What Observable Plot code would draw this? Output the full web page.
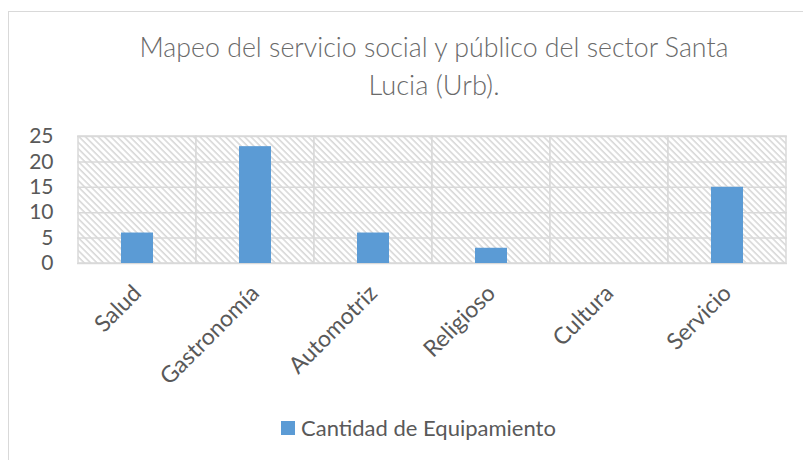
<!DOCTYPE html>
<html>
<head>
<meta charset="utf-8">
<script src="https://cdn.jsdelivr.net/npm/d3@7"></script>
<script src="https://cdn.jsdelivr.net/npm/@observablehq/plot@0.6"></script>
<style>
  html, body { margin: 0; padding: 0; background: #fff; }
  #chart { position: relative; width: 803px; height: 460px; overflow: hidden; background: #fff; font-family: Lato, "Open Sans", sans-serif; }
  #border { position: absolute; left: 8px; top: 11px; right: -20px; bottom: -20px; border: 1px solid #d9d9d9; }
  #title { position: absolute; left: 0; top: 0; }
  #plot { position: absolute; left: 0; top: 110px; }
  #legend { position: absolute; left: 0; top: 410px; width: 803px; height: 50px; }
  #legend .item { position: absolute; left: 281px; top: 4px; display: flex; align-items: center; color: #595959; font-size: 22px; white-space: nowrap; }
  #legend .swatch { width: 14px; height: 14px; background: #5b9bd5; margin-right: 6px; }
</style>
</head>
<body>
<div id="chart">
  <div id="border"></div>
  <div id="title"></div>
  <div id="plot"></div>
  <div id="legend"></div>
</div>
<script>
const titleLines = ["Mapeo del servicio social y público del sector Santa", "Lucia (Urb)."];
const categories = ["Salud", "Gastronomía", "Automotriz", "Religioso", "Cultura", "Servicio"];
const values = [6, 23, 6, 3, 0, 15];
const yTicks = [0, 5, 10, 15, 20, 25];
const seriesName = "Cantidad de Equipamiento";
const barColor = "#5b9bd5";

const data = categories.map((c, i) => ({category: c, value: values[i]}));

// Title
const tsvg = d3.create("svg").attr("width", 803).attr("height", 110);
const tl = [{y: 57, len: 589}, {y: 95, len: 131}];
titleLines.forEach((t, i) => {
  tsvg.append("text")
    .attr("x", 434).attr("y", tl[i].y)
    .attr("text-anchor", "middle")
    .attr("textLength", tl[i].len)
    .attr("lengthAdjust", "spacingAndGlyphs")
    .attr("font-family", "Lato, 'Open Sans', sans-serif")
    .attr("font-weight", 300)
    .attr("font-size", 28)
    .attr("fill", "#6a6a6a")
    .text(t);
});
document.getElementById("title").append(tsvg.node());

const yMax = yTicks[yTicks.length - 1];

function hatchRender(index, scales, values, dimensions, context, next) {
  const g = next(index, scales, values, dimensions, context);
  d3.select(g).attr("fill", "url(#hatch)").selectAll("rect").attr("fill", "url(#hatch)");
  return g;
}

const chart = Plot.plot({
  width: 803,
  height: 300,
  marginLeft: 77,
  marginRight: 16,
  marginTop: 26,
  marginBottom: 147,
  x: {domain: categories, padding: 0, label: null},
  y: {domain: [0, yMax], label: null},
  style: {fontFamily: "Lato, 'Open Sans', sans-serif", background: "transparent", color: "#595959", overflow: "visible"},
  marks: [
    Plot.barY(categories, {x: d => d, y1: d => 0, y2: d => yMax, fill: "white", stroke: "#d9d9d9", strokeWidth: 1.5, render: hatchRender}),
    Plot.ruleY(yTicks, {stroke: "#d9d9d9", strokeWidth: 1.5}),
    Plot.barY(data, {x: "category", y: "value", fill: barColor, insetLeft: 43, insetRight: 43}),
    Plot.axisY({ticks: yTicks, tickSize: 0, tickPadding: 24, fontSize: 21, fill: "#595959", label: null}),
    Plot.axisX({tickSize: 0, tickRotate: -45, tickPadding: 26, fontSize: 23, fill: "#595959", label: null, dx: 0})
  ]
});

const svg = d3.select(chart);
const defs = svg.insert("defs", ":first-child");
const pat = defs.append("pattern")
  .attr("id", "hatch")
  .attr("patternUnits", "userSpaceOnUse")
  .attr("width", 4.5).attr("height", 4.5)
  .attr("patternTransform", "rotate(-45)");
pat.append("rect").attr("width", 4.5).attr("height", 4.5).attr("fill", "#ffffff");
pat.append("line").attr("x1", 1).attr("y1", 0).attr("x2", 1).attr("y2", 4.5)
  .attr("stroke", "#d6d6d6").attr("stroke-width", 1.5);
svg.selectAll('rect[fill="white"]').attr("fill", "url(#hatch)");

document.getElementById("plot").append(chart);

// Legend
const item = d3.select("#legend").append("div").attr("class", "item");
item.append("div").attr("class", "swatch");
item.append("span").text(seriesName);
</script>
</body>
</html>
